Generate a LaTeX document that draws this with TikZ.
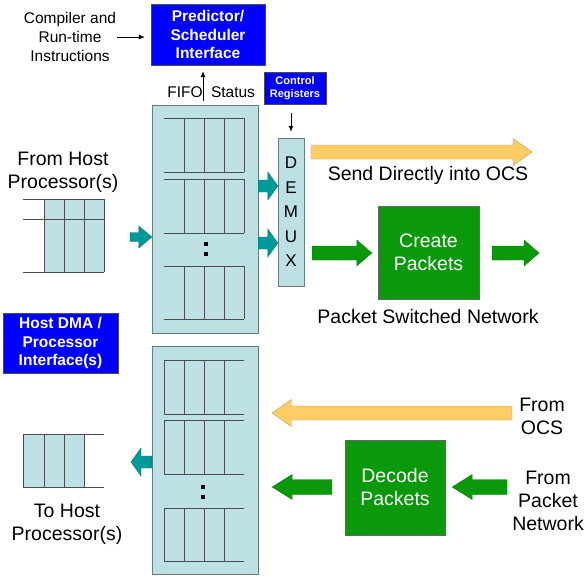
\documentclass[tikz,border=0pt]{standalone}
\usepackage{fontspec}
\setmainfont{Liberation Sans}
\usetikzlibrary{calc,arrows.meta}
\definecolor{boxblue}{RGB}{0,0,255}
\definecolor{qfill}{RGB}{188,224,228}
\definecolor{qedge}{RGB}{100,125,125}
\definecolor{tealarr}{RGB}{0,153,153}
\definecolor{orangearr}{RGB}{255,204,102}
\definecolor{greenfill}{RGB}{10,153,10}
\tikzset{
  blockarrow/.style n args={3}{to path={
    let \p1=(\tikztostart), \p2=(\tikztotarget), \n1={sign(\x2-\x1)*#3} in
    (\x1,\y1+#1) -- (\x2-\n1,\y1+#1) -- (\x2-\n1,\y1+#2) -- (\x2,\y1)
    -- (\x2-\n1,\y1-#2) -- (\x2-\n1,\y1-#1) -- (\x1,\y1-#1) -- cycle}},
}
\begin{document}
\begin{tikzpicture}[x=1pt,y=-1pt,
  lbl/.style={font=\fontsize{19.5}{23}\selectfont, align=center, inner sep=0},
  note/.style={font=\fontsize{15.5}{19}\selectfont, align=center, inner sep=0},
  bluebox/.style={draw=black!70, fill=boxblue, text=white, align=center, inner sep=0, font=\bfseries\fontsize{15.5}{18.5}\selectfont},
  greenbox/.style={draw=black!60, fill=greenfill, text=white, align=center, inner sep=0, font=\fontsize{19.5}{23}\selectfont},
  queue/.style={draw=qedge, fill=qfill, inner sep=0},
  rowline/.style={draw=black!70, line width=0.8pt},
  thinarrow/.style={draw=black, line width=0.8pt, -{Latex[length=6pt,width=5pt]}},
  tealarrow/.style={blockarrow={6}{14}{10}, fill=tealarr, draw=tealarr!75!black},
  inarrow/.style={blockarrow={4.5}{11}{13}, fill=tealarr, draw=tealarr!75!black},
  orangearrow/.style={blockarrow={7}{13.5}{19}, fill=orangearr, draw=orangearr!75!black},
  greenarrow/.style={blockarrow={7}{13}{15}, fill=greenfill, draw=greenfill!80!black}]
\useasboundingbox (0,0) rectangle (585,576);
\node[note] (compiler) at (70,37) {Compiler and\\Run-time\\Instructions};
\node[bluebox, minimum width=114pt, minimum height=61pt] (predictor) at (208,34.5) {Predictor/\\Scheduler\\Interface};
\draw[thinarrow, shorten <=1pt, shorten >=6pt] (compiler.east) -- (compiler.east -| predictor.west);
\node[note] (fifo) at (185,92) {FIFO};
\node[note] (status) at (233,92) {Status};
\coordinate (fifotail) at (203,101);
\draw[thinarrow, shorten >=6pt] (fifotail) -- (fifotail |- predictor.south);
\node[bluebox, minimum width=62pt, minimum height=32pt, font=\bfseries\fontsize{11}{13}\selectfont] (ctrl) at (295,88) {Control\\Registers};
\node[queue, minimum width=106pt, minimum height=228pt] (bufup) at (205,219) {};
\node[queue, minimum width=26pt, minimum height=148pt, font=\fontsize{17}{24.5}\selectfont, align=center] (demux) at (291,212) {D\\E\\M\\U\\X};
\draw[thinarrow, shorten <=9pt, shorten >=6pt] (demux.north |- ctrl.south) -- (demux.north);
\foreach \t/\b in {118/172,179/233,266/319} {
  \draw[rowline] (164,\t) -- (244,\t) (164,\b) -- (244,\b);
  \foreach \x in {184,204,224,244} \draw[rowline] (\x,\t) -- (\x,\b);
}
\fill (203.5,242) rectangle (207.5,246);
\fill (203.5,252) rectangle (207.5,256);
\node[lbl] (fromhost) at (63,172) {From Host\\Processor(s)};
\fill[qfill] (44,199) rectangle (104,272);
\draw[rowline] (23,199) -- (104,199) (23,219) -- (104,219) (23,272) -- (104,272);
\draw[rowline] (44,199) -- (44,272) (64,199) -- (64,272) (84,199) -- (84,272) (104,199) -- (104,272);
\coordinate (intail) at (130,237);
\draw[inarrow] (intail) to (intail -| bufup.west);
\coordinate (row1) at (0,186);
\coordinate (row2) at (0,243);
\draw[tealarrow] (bufup.east |- row1) to (demux.west |- row1);
\draw[tealarrow] (bufup.east |- row2) to (demux.west |- row2);
\coordinate (ocstail) at (311,152);
\coordinate (ocstip) at (532,152);
\draw[orangearrow] (ocstail) to (ocstip);
\node[lbl] (sendocs) at (428,175) {Send Directly into OCS};
\node[greenbox, minimum width=101pt, minimum height=93pt] (create) at (428.5,252.5) {Create\\Packets};
\coordinate (pktout) at (539,253);
\draw[greenarrow] ($(demux.east |- pktout)+(8,0)$) to ($(create.west |- pktout)+(-6,0)$);
\draw[greenarrow] ($(create.east |- pktout)+(13,0)$) to (pktout);
\node[lbl] (psn) at (428,317) {Packet Switched Network};
\node[bluebox, minimum width=115pt, minimum height=60pt] (hostdma) at (60.5,343) {Host DMA /\\Processor\\Interface(s)};
\node[queue, minimum width=106pt, minimum height=228pt] (buflo) at (205,460) {};
\foreach \t/\b in {360/414,420/474,508/561} {
  \draw[rowline] (164,\t) -- (244,\t) (164,\b) -- (244,\b);
  \foreach \x in {164,184,204,224} \draw[rowline] (\x,\t) -- (\x,\b);
}
\fill (201,485) rectangle (205,489);
\fill (201,495) rectangle (205,499);
\coordinate (outtip) at (131,462);
\draw[tealarrow] (outtip -| buflo.west) to (outtip);
\fill[qfill] (23,434) rectangle (84,487);
\draw[rowline] (23,434) -- (104,434) (23,487) -- (104,487);
\draw[rowline] (23,434) -- (23,487) (44,434) -- (44,487) (64,434) -- (64,487) (84,434) -- (84,487);
\node[lbl] (tohost) at (67,524) {To Host\\Processor(s)};
\node[lbl] (fromocs) at (542,416) {From\\OCS};
\coordinate (ocsin) at (512,413);
\draw[orangearrow] (ocsin) to ($(buflo.east |- ocsin)+(14,0)$);
\node[greenbox, minimum width=100pt, minimum height=95pt] (decode) at (395,487.5) {Decode\\Packets};
\node[lbl] (frompkt) at (548,501) {From\\Packet\\Network};
\coordinate (pktin) at (507,487);
\draw[greenarrow, blockarrow={7.5}{12.5}{20}] (pktin) to ($(decode.east |- pktin)+(7,0)$);
\draw[greenarrow, blockarrow={7.5}{12.5}{20}] ($(decode.west |- pktin)+(-13,0)$) to ($(buflo.east |- pktin)+(14,0)$);
\end{tikzpicture}
\end{document}
